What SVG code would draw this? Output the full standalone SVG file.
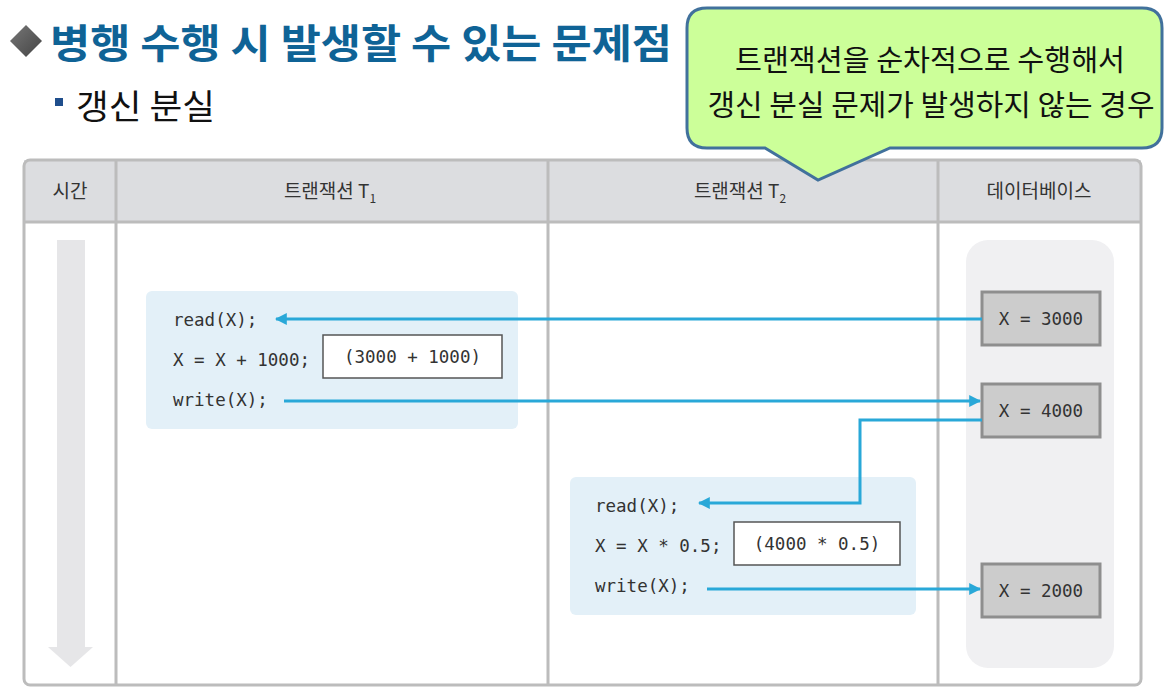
<svg xmlns="http://www.w3.org/2000/svg" width="1165" height="687" viewBox="0 0 1165 687">
<defs>
<style>
.hdr{font-family:"Noto Sans CJK KR","Liberation Sans",sans-serif;font-size:19px;fill:#333;text-anchor:middle}
.code{font-family:"DejaVu Sans Mono","Liberation Mono",monospace;font-size:17.5px;fill:#333}
.db{fill:#cccccc;stroke:#8e8e8e;stroke-width:3}
.calc{fill:#fff;stroke:#555;stroke-width:1.5}
.codebox{fill:#e3f0f8}
.conn{fill:none;stroke:#29a8d8;stroke-width:3}
.grid{stroke:#bcbcbc;stroke-width:3;fill:none}
.kr{font-family:"Noto Sans CJK KR","Liberation Sans",sans-serif}
</style>
<marker id="ah" viewBox="0 0 10 10" refX="9" refY="5" markerWidth="4" markerHeight="4" orient="auto" markerUnits="strokeWidth">
<path d="M0,0 L10,5 L0,10 z" fill="#29a8d8"/>
</marker>
<linearGradient id="dg" x1="0" y1="0" x2="1" y2="1">
<stop offset="0" stop-color="#777"/><stop offset="1" stop-color="#444"/>
</linearGradient>
</defs>
<rect width="1165" height="687" fill="#fff"/>

<g id="title">
<path d="M26,25 L42,41 L26,57 L10,41 z" fill="url(#dg)"/>
<text x="50" y="58" class="kr" font-size="40" font-weight="bold" fill="#0f6396" textLength="622" lengthAdjust="spacingAndGlyphs">병행 수행 시 발생할 수 있는 문제점</text>
</g>
<g id="subtitle">
<rect x="55" y="98" width="8" height="8" fill="#1f4e8c"/>
<text x="76" y="119" class="kr" font-size="34" fill="#111" textLength="139" lengthAdjust="spacingAndGlyphs">갱신 분실</text>
</g>

<g id="table">
<rect x="24" y="160" width="1117" height="62" fill="#dcdde0"/>
<rect x="24" y="160" width="1117" height="525" rx="6" class="grid"/>
<line x1="24" y1="222" x2="1141" y2="222" class="grid"/>
<line x1="116" y1="160" x2="116" y2="685" class="grid"/>
<line x1="548" y1="160" x2="548" y2="685" class="grid"/>
<line x1="938" y1="160" x2="938" y2="685" class="grid"/>
<text x="70" y="198" class="hdr">시간</text>
<text x="330" y="198" class="hdr">트랜잭션 T<tspan font-size="12" dy="5">1</tspan></text>
<text x="740" y="198" class="hdr">트랜잭션 T<tspan font-size="12" dy="5">2</tspan></text>
<text x="1039" y="198" class="hdr">데이터베이스</text>
</g>

<g id="time-arrow">
<path d="M57,240 L85,240 L85,647 L93,647 L70.5,667 L48,647 L57,647 z" fill="#e6e6e8"/>
</g>

<g id="db-area">
<rect x="966" y="240" width="148" height="428" rx="22" fill="#f0f0f2"/>
</g>

<g id="t1">
<rect x="146" y="291" width="372" height="138" rx="6" class="codebox"/>
<text x="173" y="326" class="code">read(X);</text>
<text x="173" y="366" class="code">X = X + 1000;</text>
<text x="173" y="406" class="code">write(X);</text>
<rect x="323" y="335" width="179" height="43" class="calc"/>
<text x="412.5" y="363" class="code" text-anchor="middle">(3000 + 1000)</text>
</g>

<g id="t2">
<rect x="570" y="477" width="346" height="138" rx="6" class="codebox"/>
<text x="595" y="512" class="code">read(X);</text>
<text x="595" y="552" class="code">X = X * 0.5;</text>
<text x="595" y="592" class="code">write(X);</text>
<rect x="734" y="522" width="166" height="43" class="calc"/>
<text x="817" y="550" class="code" text-anchor="middle">(4000 * 0.5)</text>
</g>

<g id="db1">
<rect x="982" y="292" width="118" height="53" class="db"/>
<text x="1041" y="325" class="code" text-anchor="middle">X = 3000</text>
</g>
<g id="db2">
<rect x="982" y="384" width="118" height="53" class="db"/>
<text x="1041" y="417" class="code" text-anchor="middle">X = 4000</text>
</g>
<g id="db3">
<rect x="982" y="564" width="118" height="53" class="db"/>
<text x="1041" y="597" class="code" text-anchor="middle">X = 2000</text>
</g>

<g id="connectors">
<path d="M982,319 L276,319" class="conn" marker-end="url(#ah)"/>
<path d="M284,401 L980,401" class="conn" marker-end="url(#ah)"/>
<path d="M982,420 L860,420 L860,503 L699,503" class="conn" marker-end="url(#ah)"/>
<path d="M707,589 L980,589" class="conn" marker-end="url(#ah)"/>
</g>

<g id="callout">
<path d="M707,8 L1142,8 Q1162,8 1162,28 L1162,128 Q1162,148 1142,148 L890,148 L818,180 L765,148 L707,148 Q687,148 687,128 L687,28 Q687,8 707,8 z" fill="#ccff99" stroke="#41719c" stroke-width="3"/>
<text x="930" y="71" class="kr" font-size="29" fill="#111" text-anchor="middle" textLength="390" lengthAdjust="spacingAndGlyphs">트랜잭션을 순차적으로 수행해서</text>
<text x="931" y="116" class="kr" font-size="29" fill="#111" text-anchor="middle" textLength="447" lengthAdjust="spacingAndGlyphs">갱신 분실 문제가 발생하지 않는 경우</text>
</g>
</svg>
